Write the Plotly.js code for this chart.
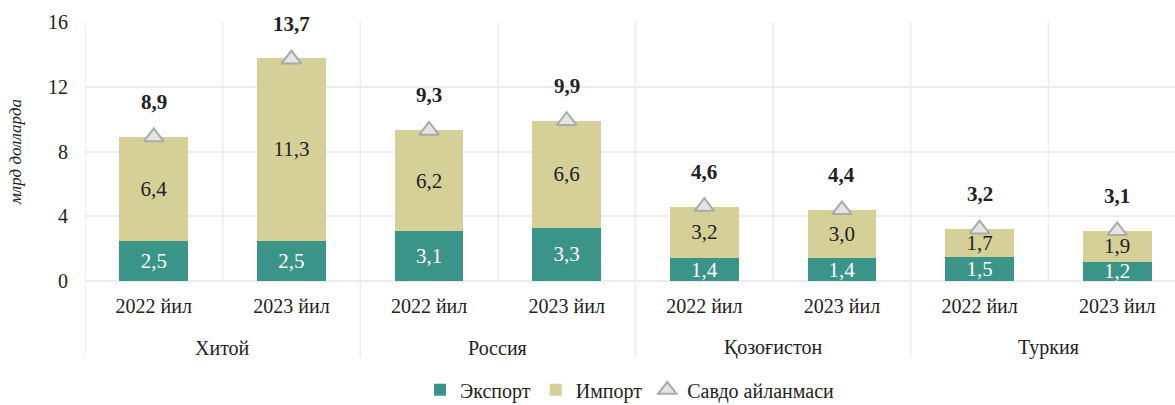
<!DOCTYPE html>
<html>
<head>
<meta charset="utf-8">
<script src="https://cdn.plot.ly/plotly-3.0.1.min.js"></script>
<style>
html,body{margin:0;padding:0;background:#fff;}
#chart{width:1175px;height:405px;}
#chart svg text{font-family:'Liberation Serif','Times New Roman',serif !important;}
</style>
</head>
<body>
<div id="chart"></div>
<script>
const years = ["2022 йил", "2023 йил", "2022 йил", "2023 йил", "2022 йил", "2023 йил", "2022 йил", "2023 йил"];
const countries = ["Хитой", "Россия", "Қозоғистон", "Туркия"];
const exportVals = [2.5, 2.5, 3.1, 3.3, 1.4, 1.4, 1.5, 1.2];
const importVals = [6.4, 11.3, 6.2, 6.6, 3.2, 3.0, 1.7, 1.9];
const totalVals = [8.9, 13.7, 9.3, 9.9, 4.6, 4.4, 3.2, 3.1];
const seriesNames = ["Экспорт", "Импорт", "Савдо айланмаси"];
const yTicks = [0, 4, 8, 12, 16];

const pos = years.map((_, i) => i);
const font = "Times New Roman";
const gridColor = "#ececec";

const traces = [
  {
    type: "bar", name: seriesNames[0], x: pos, y: exportVals,
    marker: {color: "#3a9488"}, width: 0.5,
    texttemplate: "%{y:.1f}", textposition: "inside", insidetextanchor: "middle",
    constraintext: "none", textfont: {color: "#ffffff", size: 21, family: font},
    hoverinfo: "skip"
  },
  {
    type: "bar", name: seriesNames[1], x: pos, y: importVals,
    marker: {color: "#d5cf98"}, width: 0.5,
    texttemplate: "%{y:.1f}", textposition: "inside", insidetextanchor: "middle",
    constraintext: "none", textfont: {color: "#222222", size: 21, family: font},
    hoverinfo: "skip"
  },
  {
    type: "scatter", mode: "markers", name: seriesNames[2], x: pos, y: totalVals,
    marker: {symbol: "triangle-up", size: 17, color: "#e4e4e4", line: {color: "#aaaaaa", width: 2}},
    hoverinfo: "skip"
  }
];

const shapes = [];
for (let i = 0; i <= 8; i++) {
  const isGroup = i % 2 === 0;
  shapes.push({
    type: "line", xref: "x", yref: "paper", x0: i - 0.5, x1: i - 0.5,
    y0: isGroup ? -0.295 : 0, y1: 1,
    line: {color: gridColor, width: 1.5}, layer: "below"
  });
}

const annotations = [];
totalVals.forEach((v, i) => {
  annotations.push({
    x: pos[i], y: v, xref: "x", yref: "y", text: "<b>" + v.toFixed(1).replace(".", ",") + "</b>",
    showarrow: false, yanchor: "middle", yshift: 35,
    font: {family: font, size: 21, color: "#222"}
  });
});
countries.forEach((c, g) => {
  annotations.push({
    x: 2 * g + 0.5, y: -0.258, xref: "x", yref: "paper", text: c,
    showarrow: false, yanchor: "middle",
    font: {family: font, size: 20, color: "#222"}
  });
});

const layout = {
  width: 1175, height: 405,
  margin: {l: 85, r: 0, t: 22, b: 124, autoexpand: false},
  paper_bgcolor: "#fff", plot_bgcolor: "#fff",
  barmode: "stack",
  separators: ", ",
  font: {family: font, size: 20, color: "#222"},
  showlegend: true,
  legend: {
    orientation: "h", traceorder: "normal", x: 0.5, xanchor: "center",
    y: -0.42, yanchor: "middle",
    font: {family: font, size: 20, color: "#222"}, itemwidth: 30, tracegroupgap: 0
  },
  xaxis: {
    range: [-0.5, 7.42], tickmode: "array", tickvals: pos, ticktext: years,
    showgrid: false, zeroline: false, showline: false, ticks: "",
    ticklabelstandoff: 11, tickfont: {family: font, size: 20, color: "#222"},
    fixedrange: true
  },
  yaxis: {
    range: [0, 16], tickmode: "array", tickvals: yTicks, ticktext: yTicks.map(String),
    showgrid: true, gridcolor: gridColor, gridwidth: 2,
    zeroline: true, zerolinecolor: gridColor, zerolinewidth: 2,
    showline: false, ticks: "", ticklabelstandoff: 16,
    tickfont: {family: font, size: 20, color: "#222"},
    title: {text: "<i>млрд долларда</i>", font: {family: font, size: 17, color: "#222"}, standoff: 22},
    fixedrange: true
  },
  shapes: shapes,
  annotations: annotations
};

Plotly.newPlot("chart", traces, layout, {displayModeBar: false, staticPlot: true}).then(() => {
  document.querySelectorAll("#chart text").forEach(t => {
    t.style.setProperty("font-family", "'Liberation Serif', 'Times New Roman', serif", "important");
  });
});
</script>
</body>
</html>
